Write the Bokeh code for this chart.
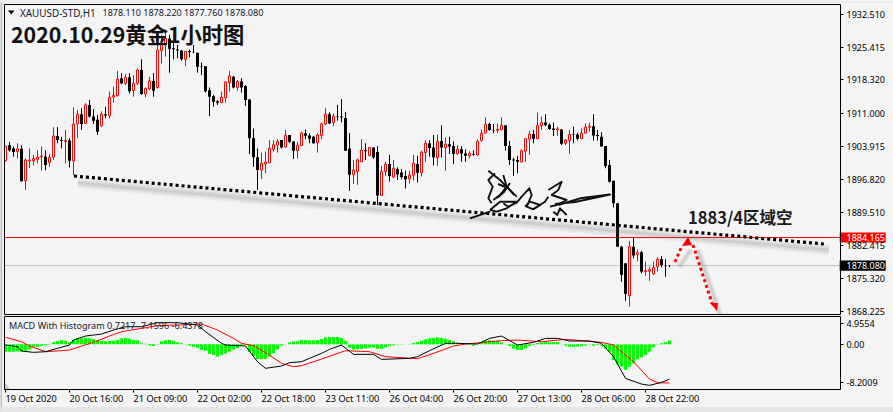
from bokeh.plotting import figure
from bokeh.models import Range1d, FixedTicker, NumeralTickFormatter, LinearAxis
from bokeh.core.properties import value
from bokeh.embed import file_html
from bokeh.resources import INLINE

opens = [1900.9,1904.3,1903.6,1902.9,1903.5,1896.6,1900.9,1900.9,1901.2,1901.8,1901.8,1900.5,1901.7,1906.3,1905.4,1905.1,1905.3,1900.9,1908.9,1911.0,1909.0,1913.0,1910.5,1909.8,1908.5,1911.0,1910.7,1914.7,1915.0,1918.8,1917.7,1919.0,1916.1,1917.7,1920.6,1915.4,1916.5,1918.2,1916.75,1924.8,1926.1,1927.4,1925.3,1925.0,1924.8,1922.9,1924.7,1924.5,1924.3,1921.4,1921.4,1916.2,1914.9,1913.8,1913.5,1914.6,1917.8,1919.1,1916.8,1918.1,1917.1,1914.2,1905.8,1901.7,1898.9,1900.2,1900.5,1903.4,1904.3,1905.4,1903.9,1906.5,1905.1,1903.1,
 1904.2,1906.9,1906.4,1906.1,1904.8,1906.4,1908.9,1911.0,1909.2,1910.55,1910.5,1910.2,1903.6,1897.9,1898.6,1900.7,1903.2,1902.0,1903.8,1902.8,1893.4,1898.6,1900.2,1897.4,1899.1,1898.4,1897.6,1897.0,1897.8,1900.2,1898.3,1902.7,1904.7,1903.8,1901.6,1905.2,1903.8,1904.5,1904.1,1902.5,1903.4,1902.5,1902.0,1902.4,1902.2,1905.3,1906.9,1908.9,1907.6,1907.5,1907.6,1908.6,1904.1,1901.2,1901.1,1900.7,1903.0,1905.6,1906.7,1905.7,1908.5,1909.2,1908.7,1907.9,1907.6,1907.7,1904.7,1905.3,1906.7,1906.6,1905.7,1906.9,1908.2,1908.4,1906.5,
 1906.1,1904.1,1900.0,1896.6,1891.7,1882.3,1878.7,1871.7,1882.3,1880.6,1881.1,1876.9,1877.0,1876.4,1878.0,1879.6,1878.3,1878.11]
highs = [1904.1,1905.0,1904.0,1904.7,1904.3,1901.4,1903.6,1902.2,1903.2,1904.0,1903.2,1902.4,1908.2,1908.2,1906.1,1907.6,1905.8,1912.5,1911.9,1912.3,1913.4,1914.1,1912.1,1910.8,1911.6,1912.6,1915.9,1917.0,1920.4,1919.9,1919.7,1919.9,1919.5,1920.9,1922.9,1916.8,1919.1,1919.9,1926.4,1928.2,1929.4,1928.2,1926.4,1926.0,1924.9,1924.6,1925.0,1926.0,1924.3,1922.2,1921.4,1916.8,1915.2,1914.1,1915.9,1918.1,1920.4,1919.3,1918.4,1918.8,1917.3,1914.2,1907.9,1903.6,1902.7,1902.9,1905.4,1905.4,1905.6,1905.4,1907.6,1906.5,1905.1,1905.05,
 1907.2,1907.7,1906.9,1906.3,1906.9,1909.2,1912.3,1911.4,1911.2,1913.0,1914.3,1911.5,1906.9,1901.1,1901.4,1905.6,1904.7,1903.8,1903.8,1904.1,1899.8,1900.7,1902.2,1901.1,1899.5,1899.1,1898.8,1898.8,1902.2,1902.0,1903.1,1905.4,1905.4,1906.5,1906.6,1908.6,1906.0,1906.1,1905.1,1904.3,1904.1,1903.4,1903.0,1903.2,1905.6,1907.7,1910.3,1909.2,1908.9,1909.0,1910.3,1908.6,1905.2,1901.6,1902.0,1903.4,1905.8,1907.4,1907.6,1911.4,1910.5,1911.0,1909.0,1909.2,1908.3,1907.8,1905.6,1907.6,1908.3,1907.0,1907.9,1909.0,1909.2,1911.0,1907.6,
 1907.1,1904.1,1901.1,1896.6,1891.7,1882.5,1878.7,1883.6,1884.3,1881.7,1881.4,1879.1,1878.0,1879.1,1880.0,1880.3,1879.6,1878.22]
lows = [1900.7,1902.9,1901.8,1901.4,1896.4,1894.6,1899.3,1900.0,1900.4,1898.8,1898.9,1899.6,1901.1,1904.7,1903.6,1900.4,1899.5,1897.8,1905.8,1907.6,1909.0,1910.3,1908.9,1906.5,1908.3,1910.1,1910.1,1913.5,1914.9,1917.5,1917.3,1915.5,1914.8,1917.3,1915.2,1914.7,1916.2,1914.8,1916.6,1922.0,1923.5,1920.0,1922.9,1923.1,1922.6,1921.4,1923.3,1924.2,1920.0,1919.5,1915.7,1910.6,1912.6,1913.0,1913.4,1913.5,1915.9,1916.6,1916.1,1915.7,1912.8,1902.4,1899.6,1894.6,1896.97,1898.2,1900.4,1902.9,1902.7,1903.6,1903.8,1904.8,1901.3,1901.4,
 1904.2,1905.6,1904.7,1904.6,1902.7,1905.6,1908.7,1908.9,1908.4,1909.6,1909.2,1903.1,1894.4,1895.9,1895.7,1900.7,1901.1,1901.9,1901.3,1891.3,1893.3,1897.6,1896.4,1897.1,1896.75,1896.9,1894.9,1896.0,1896.6,1896.2,1897.5,1900.7,1901.8,1899.9,1899.8,1901.6,1898.8,1902.4,1900.2,1902.2,1900.7,1900.7,1901.4,1902.0,1902.0,1905.1,1906.9,1907.4,1906.9,1906.9,1907.6,1903.1,1900.0,1897.6,1898.2,1900.5,1900.7,1902.2,1904.7,1905.6,1907.6,1908.4,1907.6,1906.3,1906.3,1904.3,1904.3,1902.4,1904.7,1905.3,1905.6,1906.7,1907.2,1905.3,1905.3,
 1904.0,1899.3,1896.2,1890.8,1882.3,1874.7,1870.6,1869.3,1879.8,1879.1,1876.5,1876.0,1874.9,1876.2,1876.9,1877.8,1875.8,1877.76]
closes = [1904.1,1903.2,1902.8,1903.5,1896.5,1901.1,1901.1,1901.4,1901.7,1901.95,1900.0,1901.7,1906.3,1905.4,1905.2,1905.3,1900.9,1908.9,1911.0,1908.9,1913.0,1910.5,1909.6,1907.2,1911.0,1910.7,1914.7,1915.1,1918.6,1917.7,1919.0,1916.0,1917.7,1920.6,1915.4,1916.6,1918.2,1916.1,1924.9,1926.2,1927.4,1925.2,1925.0,1924.8,1922.9,1924.6,1924.4,1924.4,1921.3,1921.3,1916.0,1914.8,1913.7,1913.5,1914.7,1918.0,1919.3,1916.8,1918.1,1916.8,1914.1,1905.8,1901.7,1898.9,1900.4,1900.6,1903.6,1904.4,1905.1,1903.8,1906.4,1905.05,1903.1,1904.3,
 1906.9,1906.35,1905.7,1904.7,1906.5,1908.9,1911.0,1909.0,1910.6,1910.45,1910.3,1903.1,1897.9,1898.9,1901.1,1903.2,1903.0,1903.8,1901.6,1893.4,1898.6,1900.2,1897.6,1899.3,1898.0,1897.4,1896.9,1897.8,1900.4,1898.3,1902.8,1904.7,1903.7,1901.7,1905.1,1903.8,1904.5,1904.0,1902.4,1903.4,1902.5,1902.0,1902.5,1902.2,1905.1,1906.9,1908.8,1907.6,1907.5,1907.7,1908.6,1904.1,1901.1,1901.0,1900.7,1903.1,1905.7,1906.7,1905.7,1908.6,1909.2,1908.6,1907.8,1907.6,1907.8,1904.6,1905.4,1906.6,1906.6,1905.7,1906.9,1908.2,1908.4,1906.4,1906.3,
 1904.0,1899.8,1896.4,1891.7,1882.3,1876.2,1872.1,1882.3,1880.4,1881.0,1876.9,1877.1,1877.3,1877.8,1879.6,1878.3,1878.2,1878.08]

hist = [-1.36,-1.36,-1.36,-1.30,-1.36,-1.17,-0.93,-0.43,-0.43,-0.31,-0.19,0.06,
 .37,.62,.74,.68,.37,.80,1.11,1.11,1.23,1.11,.93,.80,.68,.56,.62,.68,.80,1.11,1.17,1.05,.80,.74,.19,.12,-.19,-.31,.06,.56,.74,.80,.68,.37,.19,.06,-.25,-.43,
 -.62,-1.05,-1.17,-1.79,-1.98,-2.28,-1.98,-1.67,-1.36,-.93,-.74,-.25,-.12,-1.36,-2.16,-2.72,-2.72,-2.72,-2.28,-1.67,-.93,-.25,-.02,.37,.56,.56,
 .80,.80,.74,.74,.80,.99,1.30,1.36,1.36,1.36,1.17,.68,-.62,-.93,-.93,-.86,-.74,-.62,-.56,-.86,-.86,-.56,-.31,-.19,-.06,-.06,-.02,.06,.25,.43,.68,.93,1.11,1.17,1.30,1.17,1.05,.80,.56,.31,.19,.06,-.06,-.25,-.02,.31,.68,.74,.68,.62,.37,-.02,-.31,-.80,-1.05,-1.05,-.74,-.31,-.12,.25,.37,.43,.37,.43,.43,-.02,-.25,-.43,-.49,-.43,-.37,-.25,-.06,-.25,-.12,
 -.25,-.80,-1.36,-2.90,-3.70,-4.14,-4.75,-4.14,-3.52,-2.78,-2.41,-1.98,-1.36,-.56,.06,.19,.43,.72]

macd_bar = [0,3,4,7,10,13,16,17,20,24,27,30,34,38,43,48,50,54,55,60,63,65,69,71,74,76,79,81,84,87,92,94,101,103,106,110,113,118,121,124,128,132,135,138,141,146,149,152,155,159,161,164,166]
macd_val = [-.12,-.43,-1.23,-1.48,-1.36,-.74,-.12,.80,1.54,1.91,2.65,3.27,3.27,4.01,4.01,3.58,2.35,.19,-.12,-.31,-3.21,-4.44,-4.01,-3.40,-3.21,-2.59,-1.67,-.93,-.12,-1.85,-1.85,-2.78,-2.59,-2.28,-1.17,.19,.19,.06,1.11,1.54,-.12,.37,1.11,1.11,.62,.62,.19,-2.28,-6.30,-7.35,-7.59,-7.04,-6.44]
sig_bar = [0,4,6,10,14,16,19,22,26,29,34,38,43,49,53,57,59,62,66,69,72,74,79,85,91,95,103,107,112,115,124,128,134,140,144,149,152,157,161,163,166]
sig_val = [1.30,.49,-.31,-1.36,-1.17,-1.05,-.31,.37,1.54,2.35,2.96,3.46,3.58,3.77,2.65,1.11,.19,-.25,-1.98,-3.52,-4.14,-3.95,-2.72,-1.17,-1.36,-2.28,-2.65,-1.67,-.31,.06,.68,.80,.49,.93,.68,.37,-.12,-3.21,-6.42,-7.10,-7.16]

price_ticks = [1932.510,1925.415,1918.320,1911.000,1903.915,1896.820,1889.510,1882.415,1875.320,1868.225]
bid_price = 1878.080
ref_price = 1884.165
date_labels = ["19 Oct 2020","20 Oct 16:00","21 Oct 09:00","22 Oct 02:00","22 Oct 18:00","23 Oct 11:00","26 Oct 04:00","26 Oct 20:00","27 Oct 13:00","28 Oct 06:00","28 Oct 22:00"]
date_bars = [0,16,32,48,64,80,96,112,128,144,160]

# reading correction: the candles were read 0.13 high against the two price lines
READ_BIAS = 0.13
def fix(v):
    return [round(x - READ_BIAS, 2) for x in v[:-1]] + [v[-1]]
opens, highs, lows, closes = fix(opens), fix(highs), fix(lows), fix(closes)

BG = "#f4f4f4"
AXF = "Noto Sans"
W, H = 893, 412
PRICE_PER_PX = 0.216613
TOP_PRICE = 1935.613
MACD_PER_PX = 3 / 16.2
MACD_TOP = 63.77
AXIS_BAR = 208.75

def price_at(py):
    return TOP_PRICE - py * PRICE_PER_PX
def macd_at(py):
    return MACD_TOP - py * MACD_PER_PX

# ranges are offset by half a pixel so that one-pixel lines land on whole pixels
p = figure(width=W, height=H, output_backend="svg", toolbar_location=None,
           x_range=Range1d(-1.25, 222.0), y_range=Range1d(price_at(H + .5), price_at(.5)),
           x_axis_location=None, y_axis_location=None,
           min_border_left=0, min_border_right=0, min_border_top=0, min_border_bottom=0,
           background_fill_color=BG, border_fill_color=BG, outline_line_color=None)
p.grid.visible = False
p.extra_x_ranges["px"] = Range1d(.5, W + .5)
p.extra_y_ranges["px"] = Range1d(H + .5, .5)
p.extra_y_ranges["macd"] = Range1d(macd_at(H + .5), macd_at(.5))
PX = dict(x_range_name="px", y_range_name="px")

# window edges
p.quad(left=[0, 0, 0], right=[2, W + 1, W + 1], top=[0, 0, 407], bottom=[H + 1, 3, H + 1],
       fill_color=["#bdbdbd", "#ececec", "#e6e6e6"], line_color=None, **PX)
p.quad(left=[2], right=[4], top=[3], bottom=[407], fill_color="#f0f0f0", line_color=None, **PX)

# price lines
p.line([-0.125, AXIS_BAR], [bid_price, bid_price], line_color="#c0c0c0", line_width=1)
p.line([-0.125, AXIS_BAR], [ref_price, ref_price], line_color="#ff0000", line_width=1)

# candles
n = range(len(opens))
down = [i for i in n if closes[i] < opens[i]]
up = [i for i in n if closes[i] >= opens[i]]
p.segment(x0=down, x1=down, y0=[highs[i] for i in down], y1=[lows[i] for i in down],
          line_color="black", line_width=1)
p.vbar(x=down, width=0.75, top=[opens[i] for i in down], bottom=[closes[i] for i in down],
       fill_color="black", line_color=None)
p.segment(x0=up, x1=up, y0=[highs[i] for i in up], y1=[lows[i] for i in up],
          line_color="#ff0000", line_width=1)
p.vbar(x=up, width=0.5, top=[closes[i] for i in up], bottom=[opens[i] for i in up],
       fill_color="white", line_color="#ff0000", line_width=1)

# hand-drawn annotations, placed in the picture's own pixel scale
for w, a in ((11, .05), (8, .07), (5, .09), (2.5, .1)):
    p.line([78, 829], [183, 250], line_color="#707070", line_width=w, line_alpha=a, **PX)
    p.line([679, 691], [267, 250], line_color="#707070", line_width=w*.7, line_alpha=a, **PX)
    p.line([698, 720], [250, 314], line_color="#707070", line_width=w*.7, line_alpha=a, **PX)
p.line([74, 824], [176, 244], line_color="black", line_width=3.2, line_dash="3 3", **PX)
p.line([675, 682], [262, 246], line_color="#ff0000", line_width=3, line_dash="3 3", **PX)
p.line([693, 712], [245, 303], line_color="#ff0000", line_width=3, line_dash="3 3", **PX)
p.patch([682, 688, 692], [246, 237, 245], fill_color="#ff0000", line_color=None, **PX)
p.patch([710, 718, 717], [303, 303, 311], fill_color="#ff0000", line_color=None, **PX)

sig_strokes_x = [[488.3,500,516.7],[495,488.3,492.7,488.3,491.7],[503.3,506.7,500,493.3],[498,508,514],[510,504,497],
                 [490,500,516.7,506.7,496.7,490],
                 [503.3,508.3,516.7,521.7,529.3,531.7,526.7,533.3,545,548.3],
                 [548.3,561.7,558.3,551.7,566.7,556.7,550],[553.3,557.3,560,566.7],
                 [558.3,580,610,575,555],[470,490],[525,530,540,533.3]]
sig_strokes_y = [[170.7,180,196.7],[173.3,180,186.7,198.3,203.3],[175,186.7,195,200],[184,188,195],[183,192,198],
                 [210,201.7,201.7,208.3,211.7,210],
                 [203.3,206.7,202.7,196.7,188.3,195,206.7,209.3,201.7,196.7],
                 [190,181.7,190,195,200,205,206.7],[211.7,215,208.3,215],
                 [205,198.3,194.5,202,204],[218.3,211.7],[206.7,201.7,205,209.3]]
p.multi_line(sig_strokes_x, sig_strokes_y, line_color="#111111", line_width=1.9, line_join="round", **PX)

# MACD panel
bars = list(range(len(hist)))
p.vbar(x=bars, width=0.75, top=hist, bottom=0, fill_color="#00ff00", line_color=None, y_range_name="macd")
p.line(sig_bar, sig_val, line_color="#ff0000", line_width=1, y_range_name="macd")
p.line(macd_bar, macd_val, line_color="black", line_width=1, y_range_name="macd")
p.patch([5, 10, 5], [383, 389, 389], fill_color="#c8c8c8", line_color=None, **PX)

# panel frames
for xs, ys in (([4.5, 840.5], [4.5, 4.5]), ([4.5, 840.5], [314.5, 314.5]), ([4.5, 840.5], [316.5, 316.5]),
               ([4.5, 4.5], [4.5, 314.5]), ([4.5, 4.5], [316.5, 389.5])):
    p.line(xs, ys, line_color="black", line_width=1, **PX)

# axes held at the frame's edge
ax = LinearAxis(fixed_location=AXIS_BAR, ticker=FixedTicker(ticks=price_ticks),
                formatter=NumeralTickFormatter(format="0.000"), bounds=(price_at(314.5), price_at(4.5)))
ay = LinearAxis(fixed_location=AXIS_BAR, y_range_name="macd", ticker=FixedTicker(ticks=[3.83, 0, -7.04]),
                major_label_overrides={3.83: "4.9554", 0: "0.00", -7.04: "-8.2009"},
                bounds=(macd_at(389.5), macd_at(316.5)))
ab = LinearAxis(fixed_location=macd_at(389.5), y_range_name="macd", ticker=FixedTicker(ticks=date_bars),
                major_label_text_font_size="0px", major_label_text_color=None, bounds=(-0.25, AXIS_BAR))
for a in (ax, ay, ab):
    a.major_tick_out = 3
    a.major_tick_in = 0
    a.minor_tick_out = 0
    a.minor_tick_in = 0
    a.axis_line_color = "black"
for a in (ax, ay):
    a.major_label_text_font = AXF
    a.major_label_text_font_size = "9px"
    a.major_label_text_color = "black"
    a.major_label_standoff = 3
p.add_layout(ax, "right")
p.add_layout(ay, "right")
p.add_layout(ab, "below")

# texts
p.patch([8, 14.5, 11.2], [10.5, 10.5, 14.5], fill_color="black", line_color=None, **PX)
p.text([20], [12.5], text=["XAUUSD-STD,H1"], text_font=value(AXF), text_font_size=value("9.9px"),
       text_color="#14202e", text_baseline="middle", **PX)
p.text([102.5], [12.5], text=["1878.110 1878.220 1877.760 1878.080"], text_font=value(AXF), text_font_size=value("9px"),
       text_color="#14202e", text_baseline="middle", **PX)
p.text([11], [33], text=["2020.10.29黄金1小时图"], text_font=value("Noto Sans CJK SC"), text_font_size=value("21.3px"),
       text_font_style="bold", text_color="#111111", text_baseline="middle", **PX)
p.text([688], [217], text=["1883/4区域空"], text_font=value("Noto Sans CJK SC"), text_font_size=value("16.5px"),
       text_font_style="bold", text_color="#1a1a1a", text_baseline="middle", **PX)
p.text([9], [325], text=["MACD With Histogram 0.7217 -7.1596 -6.4378"], text_font=value(AXF), text_font_size=value("9.1px"),
       text_color="#14202e", text_baseline="middle", **PX)
p.text(date_bars, [macd_at(398)] * len(date_bars), text=date_labels, text_font=value(AXF), text_font_size=value("9.2px"),
       text_color="black", text_baseline="middle", y_range_name="macd")

# price tags on the scale
tag_prices = [ref_price, bid_price]
tag_texts = ["1884.165", "1878.080"]
p.rect(x=[214.3, 214.3], y=tag_prices, width=11.5, height=10.2 * PRICE_PER_PX,
       fill_color=["#ff0000", "#000000"], line_color=None)
p.text(x=[210.25, 210.25], y=tag_prices, text=tag_texts, text_font=value(AXF), text_font_size=value("9px"),
       text_color="white", text_baseline="middle")

open("out.html", "w").write(file_html(p, INLINE))
